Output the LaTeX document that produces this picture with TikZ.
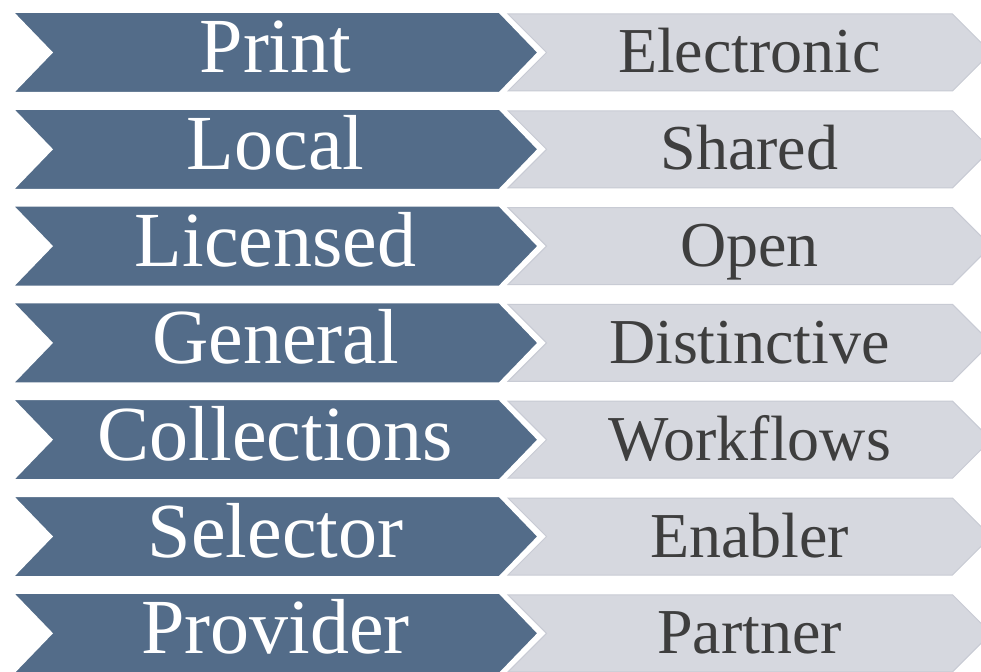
\documentclass[tikz,border=0pt]{standalone}
\usepackage{fontspec}
\setmainfont{Liberation Serif}
\usepackage{tikz}
\usetikzlibrary{shapes.symbols,positioning}
\usepackage{xcolor}
\definecolor{rowdark}{RGB}{83,108,137}
\definecolor{rowlight}{RGB}{214,216,223}
\definecolor{rowlightline}{RGB}{200,203,212}
\definecolor{rowtext}{RGB}{62,62,62}
\tikzstyle{oldterm} = [signal, signal from=west, signal to=east, signal pointer angle=92, minimum width=526pt, minimum height=81pt, inner sep=0pt, fill=rowdark, draw=white, line width=2pt, text=white, font=\fontsize{78}{84}\selectfont, text height=52pt, text depth=11pt]
\tikzstyle{newterm} = [signal, signal from=west, signal to=east, signal pointer angle=90, minimum width=483pt, minimum height=77pt, inner sep=0pt, fill=rowlight, draw=rowlightline, line width=1pt, text=rowtext, font=\fontsize{64}{70}\selectfont, text height=42pt, text depth=1pt]

\begin{document}
\begin{tikzpicture}[x=1pt, y=1pt]
\path[use as bounding box, fill=white] (0,0) rectangle (981,-671);
\clip (0,0) rectangle (981,-671);

% Old model
\node (print) [oldterm] at (275.5,-52.5) {Print};
\node (local) [oldterm, below of=print, node distance=96.8pt] {Local};
\node (licensed) [oldterm, below of=local, node distance=96.8pt] {Licensed};
\node (general) [oldterm, below of=licensed, node distance=96.8pt] {General};
\node (collections) [oldterm, below of=general, node distance=96.8pt] {Collections};
\node (selector) [oldterm, below of=collections, node distance=96.8pt] {Selector};
\node (provider) [oldterm, below of=selector, node distance=96.8pt] {Provider};

% New model
\node (electronic) [newterm, right of=print, node distance=474pt] {Electronic};
\node (shared) [newterm, right of=local, node distance=474pt] {Shared};
\node (open) [newterm, right of=licensed, node distance=474pt] {Open};
\node (distinctive) [newterm, right of=general, node distance=474pt] {Distinctive};
\node (workflows) [newterm, right of=collections, node distance=474pt] {Workflows};
\node (enabler) [newterm, right of=selector, node distance=474pt] {Enabler};
\node (partner) [newterm, right of=provider, node distance=474pt] {Partner};
\end{tikzpicture}
\end{document}
